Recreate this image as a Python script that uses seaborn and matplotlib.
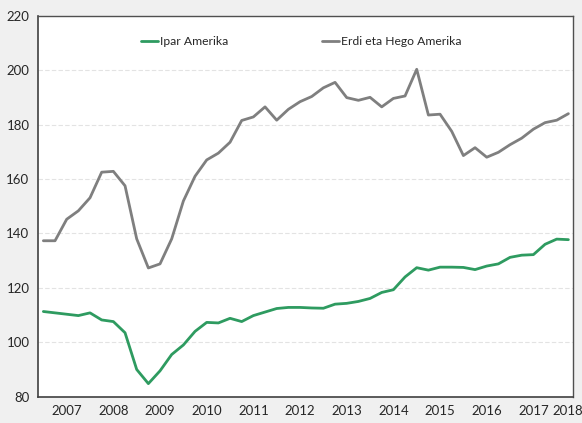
import numpy as np
import pandas as pd
import matplotlib
matplotlib.use("Agg")
import matplotlib.pyplot as plt
import seaborn as sns
from matplotlib.lines import Line2D

# quarterly positions (fractional years), Q1 2007 .. Q2 2018
years = [2007.0 + 0.25 * k for k in range(46)]

ipar_amerika = [111.3, 110.8, 110.3, 109.8, 110.8, 108.2, 107.6, 103.5, 90.0, 84.8,
                89.5, 95.5, 99.0, 104.0, 107.3, 107.1, 108.8, 107.6, 109.8, 111.1,
                112.4, 112.8, 112.8, 112.6, 112.5, 114.0, 114.3, 115.0, 116.1, 118.3,
                119.3, 124.0, 127.4, 126.5, 127.6, 127.6, 127.5, 126.7, 128.0, 128.8,
                131.2, 132.0, 132.2, 136.0, 137.9, 137.7]

erdi_hego_amerika = [137.3, 137.3, 145.2, 148.3, 153.1, 162.5, 162.8, 157.5, 138.0, 127.3,
                     128.8, 138.0, 151.9, 161.0, 167.0, 169.5, 173.5, 181.5, 182.8, 186.5,
                     181.6, 185.6, 188.4, 190.3, 193.5, 195.5, 189.9, 188.9, 190.0, 186.5,
                     189.6, 190.5, 200.3, 183.5, 183.8, 177.5, 168.6, 171.5, 168.0, 169.8,
                     172.6, 175.0, 178.3, 180.7, 181.6, 184.0]

series_names = ["Ipar Amerika", "Erdi eta Hego Amerika"]
tick_labels = ["2007", "2008", "2009", "2010", "2011", "2012", "2013", "2014",
               "2015", "2016", "2017", "2018"]
y_ticks = [80, 100, 120, 140, 160, 180, 200, 220]

df = pd.DataFrame({
    "year": years * 2,
    "value": ipar_amerika + erdi_hego_amerika,
    "series": [series_names[0]] * len(years) + [series_names[1]] * len(years),
})

sns.set_theme(style="white")
plt.rcParams["font.family"] = ["Lato", "DejaVu Sans"]

fig = plt.figure(figsize=(5.82, 4.23), dpi=100)
fig.patch.set_facecolor("#f0f0f0")
ax = fig.add_axes([0.0648, 0.0622, 0.9192, 0.9007])
ax.set_facecolor("white")

palette = {series_names[0]: "#2e9b60", series_names[1]: "#7f7f7f"}
sns.lineplot(data=df, x="year", y="value", hue="series", palette=palette,
             linewidth=2.0, ax=ax, legend=False, sort=True)
for ln in ax.lines:
    ln.set_solid_joinstyle("round")
    ln.set_solid_capstyle("round")

ax.set_xlim(2006.879, 2018.342)
ax.set_ylim(80, 220)
ax.set_yticks(y_ticks)
ax.set_yticklabels([str(v) for v in y_ticks], fontsize=9.5, color="#262626")
tick_pos = [2007.5 + i for i in range(11)] + [2018.24]
ax.set_xticks(tick_pos)
ax.set_xticklabels(tick_labels, fontsize=9.5, color="#262626")
ax.tick_params(axis="both", length=0, pad=6)
ax.set_xlabel("")
ax.set_ylabel("")

for v in [100, 120, 140, 160, 180, 200]:
    ax.axhline(v, color="#e3e3e3", linewidth=0.8, linestyle=(0, (4, 2)), zorder=0)

for side in ["left", "bottom"]:
    ax.spines[side].set_color("#404040")
    ax.spines[side].set_linewidth(1.2)
for side in ["top", "right"]:
    ax.spines[side].set_color("#505050")
    ax.spines[side].set_linewidth(1.0)

handles = [Line2D([0], [0], color=palette[n], linewidth=2.0) for n in series_names]
ax.legend(handles, series_names, loc="upper center", bbox_to_anchor=(0.493, 0.975),
          ncol=2, frameon=False, fontsize=8.7, handlelength=1.4, handletextpad=0.2,
          columnspacing=7.75)

fig.savefig("out.png", dpi=100, facecolor=fig.get_facecolor())
